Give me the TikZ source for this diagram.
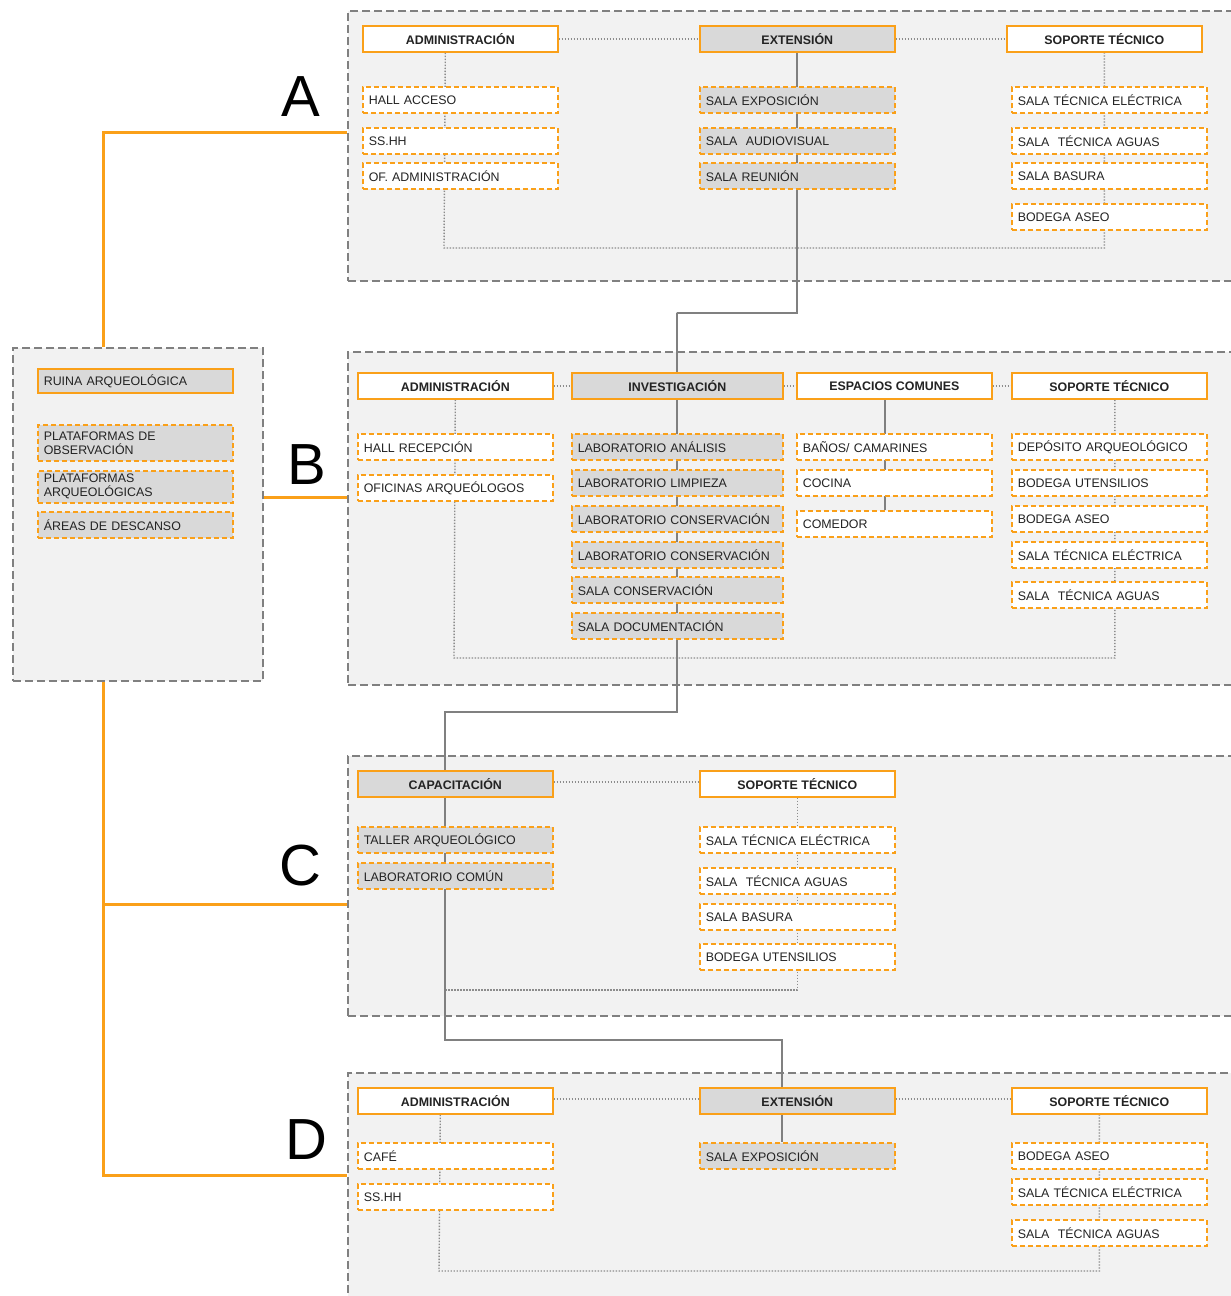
\documentclass[tikz,border=0pt]{standalone}
\usepackage{fontspec}
\setmainfont{Liberation Sans}
\usetikzlibrary{calc}
\pgfdeclarelayer{panel}
\pgfdeclarelayer{conn}
\pgfsetlayers{panel,conn,main}
\definecolor{org}{RGB}{250,160,25}
\definecolor{boxg}{RGB}{217,217,217}
\definecolor{panelg}{RGB}{242,242,242}
\definecolor{bord}{RGB}{128,128,128}
\definecolor{dotg}{RGB}{140,140,140}
\definecolor{txt}{RGB}{35,35,35}
\tikzset{
  hdr/.style={draw=org, line width=1.6pt, anchor=north west, minimum height=26pt, inner sep=0pt,
    font=\bfseries\fontsize{12.4}{14}\selectfont, text=txt},
  hw/.style={hdr, fill=white, minimum width=195pt},
  hg/.style={hdr, fill=boxg, minimum width=195pt},
  chd/.style={draw=org, line width=1.6pt, dash pattern=on 5pt off 3pt, anchor=north west,
    minimum height=26pt, inner xsep=6pt, inner ysep=0pt, text width=183pt, align=left,
    font=\fontsize{12.4}{14}\selectfont, text=txt},
  cw/.style={chd, fill=white},
  cg/.style={chd, fill=boxg},
  wide/.style={text width=199pt},
  pnl/.style={draw=bord, line width=2pt, dash pattern=on 8pt off 4pt, fill=panelg,
    anchor=north west, inner sep=0pt},
  dotc/.style={draw=dotg, line width=1.4pt, dash pattern=on 1.4pt off 1.6pt},
  solidc/.style={draw=bord, line width=2pt},
  tree/.style={draw=org, line width=3pt},
  bigl/.style={font=\fontsize{58}{60}\selectfont, text=black, inner sep=0pt}
}
\begin{document}
\begin{tikzpicture}[x=1pt,y=-1pt]
\useasboundingbox (0,0) rectangle (1231,1296);

\begin{pgfonlayer}{panel}
\fill[white] (0,0) rectangle (1231,1296);
\node[pnl, minimum width=920pt, minimum height=270pt] (pA) at (347,10) {};
\node[pnl, minimum width=920pt, minimum height=333pt] (pB) at (347,351) {};
\node[pnl, minimum width=920pt, minimum height=260pt] (pC) at (347,755) {};
\node[pnl, minimum width=920pt, minimum height=240pt] (pD) at (347,1072) {};
\node[pnl, minimum width=250pt, minimum height=333pt] (site) at (12,347) {};
\end{pgfonlayer}

% labels
\node[bigl] (lA) at (301,97) {A};
\node[bigl] (lB) at (307,465) {B};
\node[bigl] (lC) at (300,866) {C};
\node[bigl] (lD) at (306,1140) {D};

% site box
\node[cg, solid, minimum height=24pt] (s1) at (37,368) {RUINA ARQUEOLÓGICA};
\node[cg, minimum height=36pt] (s2) at (37,424) {PLATAFORMAS DE\\OBSERVACIÓN};
\node[cg, minimum height=32pt] (s3) at (37,470) {PLATAFORMAS\\ARQUEOLÓGICAS};
\node[cg] (s4) at (37,511) {ÁREAS DE DESCANSO};

% ---------- Panel A
\node[hw] (aAdm) at (362,25) {ADMINISTRACIÓN};
\node[hg] (aExt) at (699,25) {EXTENSIÓN};
\node[hw] (aSop) at (1006,25) {SOPORTE TÉCNICO};
\node[cw] (aA1) at (362,86) {HALL ACCESO};
\node[cw] (aA2) at (362,127) {SS.HH};
\node[cw] (aA3) at (362,162) {OF. ADMINISTRACIÓN};
\node[cg] (aE1) at (699,86) {SALA EXPOSICIÓN};
\node[cg] (aE2) at (699,127) {SALA\ \ AUDIOVISUAL};
\node[cg] (aE3) at (699,162) {SALA REUNIÓN};
\node[cw] (aS1) at (1011,86) {SALA TÉCNICA ELÉCTRICA};
\node[cw] (aS2) at (1011,127) {SALA\ \ TÉCNICA AGUAS};
\node[cw] (aS3) at (1011,162) {SALA BASURA};
\node[cw] (aS4) at (1011,203) {BODEGA ASEO};

% ---------- Panel B
\node[hw] (bAdm) at (357,372) {ADMINISTRACIÓN};
\node[hg, minimum width=211pt] (bInv) at (571,372) {INVESTIGACIÓN};
\node[hw] (bEsp) at (796,372) {ESPACIOS COMUNES};
\node[hw] (bSop) at (1011,372) {SOPORTE TÉCNICO};
\node[cw] (bA1) at (357,433) {HALL RECEPCIÓN};
\node[cw] (bA2) at (357,474) {OFICINAS ARQUEÓLOGOS};
\node[cg, wide] (bI1) at (571,433) {LABORATORIO ANÁLISIS};
\node[cg, wide] (bI2) at (571,469) {LABORATORIO LIMPIEZA};
\node[cg, wide] (bI3) at (571,505) {LABORATORIO CONSERVACIÓN};
\node[cg, wide] (bI4) at (571,541) {LABORATORIO CONSERVACIÓN};
\node[cg, wide] (bI5) at (571,576) {SALA CONSERVACIÓN};
\node[cg, wide] (bI6) at (571,612) {SALA DOCUMENTACIÓN};
\node[cw] (bE1) at (796,433) {BAÑOS/ CAMARINES};
\node[cw] (bE2) at (796,469) {COCINA};
\node[cw] (bE3) at (796,510) {COMEDOR};
\node[cw] (bS1) at (1011,433) {DEPÓSITO ARQUEOLÓGICO};
\node[cw] (bS2) at (1011,469) {BODEGA UTENSILIOS};
\node[cw] (bS3) at (1011,505) {BODEGA ASEO};
\node[cw] (bS4) at (1011,541) {SALA TÉCNICA ELÉCTRICA};
\node[cw] (bS5) at (1011,581) {SALA\ \ TÉCNICA AGUAS};

% ---------- Panel C
\node[hg] (cCap) at (357,770) {CAPACITACIÓN};
\node[hw] (cSop) at (699,770) {SOPORTE TÉCNICO};
\node[cg] (cC1) at (357,826) {TALLER ARQUEOLÓGICO};
\node[cg] (cC2) at (357,862) {LABORATORIO COMÚN};
\node[cw] (cS1) at (699,826) {SALA TÉCNICA ELÉCTRICA};
\node[cw] (cS2) at (699,867) {SALA\ \ TÉCNICA AGUAS};
\node[cw] (cS3) at (699,903) {SALA BASURA};
\node[cw] (cS4) at (699,943) {BODEGA UTENSILIOS};

% ---------- Panel D
\node[hw] (dAdm) at (357,1087) {ADMINISTRACIÓN};
\node[hg] (dExt) at (699,1087) {EXTENSIÓN};
\node[hw] (dSop) at (1011,1087) {SOPORTE TÉCNICO};
\node[cw] (dA1) at (357,1142) {CAFÉ};
\node[cw] (dA2) at (357,1183) {SS.HH};
\node[cg] (dE1) at (699,1142) {SALA EXPOSICIÓN};
\node[cw] (dS1) at (1011,1142) {BODEGA ASEO};
\node[cw] (dS2) at (1011,1178) {SALA TÉCNICA ELÉCTRICA};
\node[cw] (dS3) at (1011,1219) {SALA\ \ TÉCNICA AGUAS};

% junction coordinates
\coordinate (aJ) at (444,248);
\coordinate (bJ) at (454,658);
\coordinate (cJ) at (444,990);
\coordinate (dJ) at (439,1271);
\coordinate (j1) at (677,313);
\coordinate (j2) at (444,712);
\coordinate (j3) at (781,1040);

\begin{pgfonlayer}{conn}
% tree
\draw[tree] ([xshift=-35pt]site.north) |- ([yshift=14pt]pA.west);
\draw[tree] ([yshift=17.5pt]site.east) -- ([yshift=21.5pt]pB.west);
\draw[tree] ([xshift=-35pt]site.south) |- ([yshift=18pt]pD.west);
\draw[tree] ([xshift=-35pt]site.south) |- ([yshift=-18pt]pC.west);
% panel A
\draw[dotc] (aAdm) -- (aExt);
\draw[dotc] (aExt) -- (aSop);
\draw[dotc] ([xshift=-15pt]aAdm.south) -- (aJ) -| (aSop.south);
% panel B
\draw[dotc] (bAdm) -- (bInv);
\draw[dotc] (bInv) -- (bEsp);
\draw[dotc] (bEsp) -- (bSop);
\draw[dotc] (bAdm.south) -- (bJ) -| ([xshift=5.5pt]bSop.south);
\draw[solidc] ([xshift=-9.5pt]bEsp.south) -- ([xshift=-9.5pt]bE3.north);
% panel C
\draw[dotc] ([yshift=2pt]cCap.east) -- ([yshift=2pt]cSop.west);
\draw[dotc] (cSop.south) |- (cJ);
% panel D
\draw[dotc] ([yshift=2pt]dAdm.east) -- ([yshift=2pt]dExt.west);
\draw[dotc] ([yshift=2pt]dExt.east) -- ([yshift=2pt]dSop.west);
\draw[dotc] ([xshift=-15pt]dAdm.south) -- (dJ) -| ([xshift=-10pt]dSop.south);
\draw[solidc] ([xshift=-15pt]dExt.south) -- ([xshift=-15pt]dE1.north);
% main spine
\draw[solidc] (aExt.south) |- (j1) -| (bInv.north);
\draw[solidc] (bInv.south) |- (j2) -| ([xshift=-10pt]cCap.north);
\draw[solidc] ([xshift=-10pt]cCap.south) |- (j3) -| ([xshift=-15.5pt]dExt.north);
\end{pgfonlayer}
\end{tikzpicture}
\end{document}
